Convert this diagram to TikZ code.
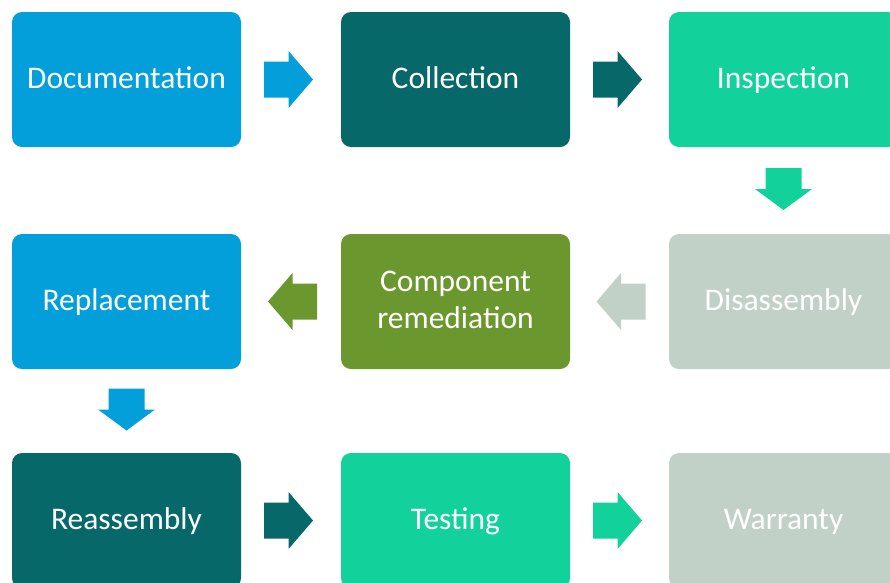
\documentclass[tikz,border=0pt]{standalone}
\usepackage{fontspec}
\setmainfont{Carlito}
\usetikzlibrary{calc}
\definecolor{cblue}{HTML}{029FDA}
\definecolor{cteal}{HTML}{066868}
\definecolor{cgreen}{HTML}{13D19B}
\definecolor{cgrey}{HTML}{C1D1C7}
\definecolor{colive}{HTML}{6B982E}
\tikzset{
  stage/.style = {rounded corners=10pt, minimum width=229pt, minimum height=135pt,
    inner sep=0pt, text=white, align=center, text height=21pt, text depth=4pt,
    font=\fontsize{31.5}{37}\selectfont},
  pics/flow/.style = {code={
    \fill (-#1,-18) -- (0,-18) -- (0,-28.5) -- (#1,0) -- (0,28.5) -- (0,18) -- (-#1,18) -- cycle;}}
}

\begin{document}
\begin{tikzpicture}[x=1pt, y=-1pt]
  \useasboundingbox (0,0) rectangle (890,582);
  \clip (0,0) rectangle (890,582);
  \node[stage, fill=cblue]  (doc)  at (126.5,79.5)  {Documentation};
  \node[stage, fill=cteal]  (col)  at (455.5,79.5)  {Collection};
  \node[stage, fill=cgreen] (insp) at (783.5,79.5)  {Inspection};
  \node[stage, fill=cgrey]  (dis)  at (783.5,301.5) {Disassembly};
  \node[stage, fill=colive, text height=58pt] (rem) at (455.5,301.5) {Component\\remediation};
  \node[stage, fill=cblue]  (rep)  at (126.5,301.5) {Replacement};
  \node[stage, fill=cteal]  (reas) at (126.5,520.5) {Reassembly};
  \node[stage, fill=cgreen] (test) at (455.5,520.5) {Testing};
  \node[stage, fill=cgrey]  (war)  at (783.5,520.5) {Warranty};
  \pic[fill=cblue]              at ($(doc.east)!.5!(col.west)+(-2.5,0)$)   {flow=24.5};
  \pic[fill=cteal]              at ($(col.east)!.5!(insp.west)+(-2,0)$)    {flow=24.5};
  \pic[fill=cgreen, rotate=-90] at ($(insp.south)!.5!(dis.north)+(0,-1.5)$) {flow=21};
  \pic[fill=cgrey, rotate=180]  at ($(dis.west)!.5!(rem.east)+(1.5,0)$)    {flow=24.5};
  \pic[fill=colive, rotate=180] at ($(rem.west)!.5!(rep.east)+(1.5,0)$)    {flow=24.5};
  \pic[fill=cblue, rotate=-90]  at ($(rep.south)!.5!(reas.north)+(0,-1.5)$) {flow=21};
  \pic[fill=cteal]              at ($(reas.east)!.5!(test.west)+(-2.5,0)$) {flow=24.5};
  \pic[fill=cgreen]             at ($(test.east)!.5!(war.west)+(-2,0)$)    {flow=24.5};
\end{tikzpicture}
\end{document}
